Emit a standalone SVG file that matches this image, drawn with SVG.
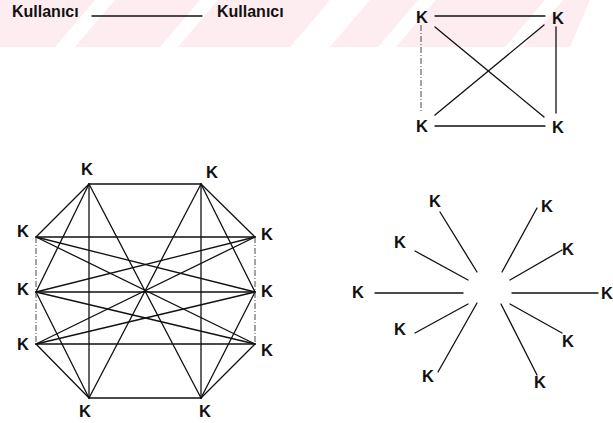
<svg xmlns="http://www.w3.org/2000/svg" width="613" height="423" viewBox="0 0 613 423">
<style>
.k{font-family:"Liberation Sans",Arial,sans-serif;font-weight:bold;font-size:16.5px;fill:#111}
.u{font-family:"Liberation Sans",Arial,sans-serif;font-weight:bold;font-size:16px;fill:#111}
.e{stroke:#111;stroke-width:1.3;fill:none;stroke-linecap:round}
.d{stroke:#333;stroke-width:0.9;fill:none;stroke-dasharray:6 2 1 2}
</style>
<rect width="613" height="423" fill="#fff"/>
<g id="watermark">
<rect x="0" y="0" width="590" height="47" fill="#fdedf0"/>
<g fill="#fff">
<polygon points="55,47 75,47 115,0 95,0"/>
<polygon points="160,47 178,47 218,0 200,0"/>
<polygon points="290,47 330,47 370,0 330,0"/>
<polygon points="378,47 396,47 436,0 418,0"/>
<polygon points="505,47 523,47 563,0 545,0"/>
<polygon points="570,47 613,47 613,0 590,0"/>
</g>
</g>
<g id="connectors">
<line class="e" x1="92" y1="16" x2="202" y2="16"/>
<line class="e" x1="435" y1="16" x2="545" y2="16"/>
<line class="d" x1="421" y1="25" x2="421" y2="113"/>
<line class="e" x1="556" y1="27" x2="556" y2="113"/>
<line class="e" x1="435" y1="126" x2="545" y2="126"/>
<line class="e" x1="435" y1="27" x2="544" y2="117"/>
<line class="e" x1="544" y1="25" x2="435" y2="115"/>
<line class="e" x1="89" y1="184" x2="201" y2="184"/>
<line class="e" x1="89" y1="398" x2="201" y2="398"/>
<line class="e" x1="89" y1="184" x2="89" y2="398"/>
<line class="e" x1="201" y1="184" x2="201" y2="398"/>
<line class="e" x1="89" y1="184" x2="201" y2="398"/>
<line class="e" x1="201" y1="184" x2="89" y2="398"/>
<line class="e" x1="89" y1="184" x2="36" y2="237"/>
<line class="e" x1="89" y1="184" x2="36" y2="292"/>
<line class="e" x1="89" y1="398" x2="36" y2="292"/>
<line class="e" x1="89" y1="398" x2="36" y2="344"/>
<line class="e" x1="201" y1="184" x2="255" y2="237"/>
<line class="e" x1="201" y1="184" x2="255" y2="292"/>
<line class="e" x1="201" y1="398" x2="255" y2="292"/>
<line class="e" x1="201" y1="398" x2="255" y2="344"/>
<line class="e" x1="36" y1="237" x2="255" y2="237"/>
<line class="e" x1="36" y1="237" x2="255" y2="292"/>
<line class="e" x1="36" y1="237" x2="255" y2="344"/>
<line class="e" x1="36" y1="292" x2="255" y2="237"/>
<line class="e" x1="36" y1="292" x2="255" y2="292"/>
<line class="e" x1="36" y1="292" x2="255" y2="344"/>
<line class="e" x1="36" y1="344" x2="255" y2="237"/>
<line class="e" x1="36" y1="344" x2="255" y2="292"/>
<line class="e" x1="36" y1="344" x2="255" y2="344"/>
<line class="d" x1="36" y1="237" x2="36" y2="344"/>
<line class="d" x1="255" y1="237" x2="255" y2="344"/>
<line class="e" x1="375" y1="293" x2="463" y2="293"/>
<line class="e" x1="512" y1="293" x2="598" y2="293"/>
<line class="e" x1="440" y1="212" x2="477" y2="272"/>
<line class="e" x1="415" y1="251" x2="468" y2="280"/>
<line class="e" x1="415" y1="333" x2="468" y2="304"/>
<line class="e" x1="438" y1="372" x2="477" y2="303"/>
<line class="e" x1="537" y1="208" x2="502" y2="272"/>
<line class="e" x1="562" y1="250" x2="510" y2="280"/>
<line class="e" x1="562" y1="333" x2="510" y2="304"/>
<line class="e" x1="537" y1="375" x2="501" y2="304"/>
</g>
<g id="user1"><text class="u" x="12" y="17">Kullanıcı</text></g>
<g id="user2"><text class="u" x="217" y="17">Kullanıcı</text></g>
<g id="sq-tl"><text class="k" x="416" y="23">K</text></g>
<g id="sq-tr"><text class="k" x="552" y="24">K</text></g>
<g id="sq-bl"><text class="k" x="416" y="132">K</text></g>
<g id="sq-br"><text class="k" x="552" y="133">K</text></g>
<g id="oc-tl"><text class="k" x="81" y="175">K</text></g>
<g id="oc-tr"><text class="k" x="206" y="178">K</text></g>
<g id="oc-lu"><text class="k" x="17" y="237">K</text></g>
<g id="oc-ru"><text class="k" x="261" y="240">K</text></g>
<g id="oc-lm"><text class="k" x="17" y="295">K</text></g>
<g id="oc-rm"><text class="k" x="261" y="297">K</text></g>
<g id="oc-ll"><text class="k" x="17" y="350">K</text></g>
<g id="oc-rl"><text class="k" x="261" y="356">K</text></g>
<g id="oc-bl"><text class="k" x="79" y="417">K</text></g>
<g id="oc-br"><text class="k" x="199" y="417">K</text></g>
<g id="st-l"><text class="k" x="352" y="298">K</text></g>
<g id="st-r"><text class="k" x="601" y="299">K</text></g>
<g id="st-ul"><text class="k" x="429" y="207">K</text></g>
<g id="st-ul2"><text class="k" x="394" y="248">K</text></g>
<g id="st-ll"><text class="k" x="394" y="335">K</text></g>
<g id="st-ll2"><text class="k" x="422" y="382">K</text></g>
<g id="st-ur"><text class="k" x="541" y="212">K</text></g>
<g id="st-ur2"><text class="k" x="562" y="255">K</text></g>
<g id="st-lr"><text class="k" x="562" y="347">K</text></g>
<g id="st-lr2"><text class="k" x="534" y="388">K</text></g>
</svg>
